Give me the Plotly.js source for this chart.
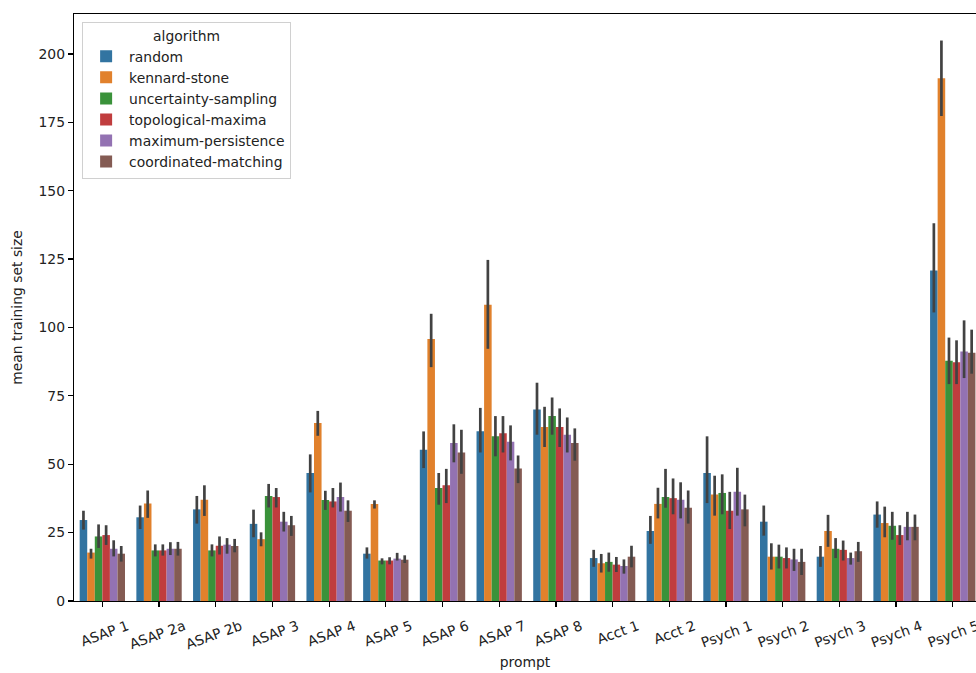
<!DOCTYPE html>
<html>
<head>
<meta charset="utf-8">
<script src="https://cdn.plot.ly/plotly-3.0.1.min.js"></script>
<style>html,body{margin:0;padding:0;background:#fff;}#chart{width:976px;height:673px;}</style>
</head>
<body>
<div id="chart"></div>
<script>
const prompts = ["ASAP 1","ASAP 2a","ASAP 2b","ASAP 3","ASAP 4","ASAP 5","ASAP 6","ASAP 7","ASAP 8","Acct 1","Acct 2","Psych 1","Psych 2","Psych 3","Psych 4","Psych 5"];
const algorithms = ["random","kennard-stone","uncertainty-sampling","topological-maxima","maximum-persistence","coordinated-matching"];
const colors = ["#3274a1","#e1812c","#3a923a","#c03d3e","#9372b2","#845b53"];

const randomMean = [29.6,30.6,33.5,28.2,46.8,17.3,55.3,62.1,70.0,15.7,25.6,46.8,29.0,16.2,31.6,120.8];
const randomHi   = [33.0,34.9,38.4,33.4,53.6,19.6,62.0,70.6,79.8,18.7,31.1,60.2,34.9,20.1,36.4,138.1];
const randomLo   = [26.1,26.3,28.3,23.3,39.7,15.5,48.6,54.3,60.8,12.5,20.9,35.8,23.9,12.5,26.8,105.5];

const kennardMean = [17.7,35.6,37.0,22.6,65.1,35.5,95.8,108.3,63.6,13.8,35.5,38.9,16.2,25.6,28.5,191.1];
const kennardHi   = [19.1,40.4,42.3,25.1,69.5,36.8,105.0,124.7,71.0,17.2,41.4,45.8,21.1,31.5,34.5,204.9];
const kennardLo   = [15.5,30.4,31.1,20.0,60.4,33.8,85.5,92.2,56.3,10.4,30.2,31.2,11.5,19.8,23.3,177.3];

const uncertaintyMean = [23.6,18.5,18.5,38.4,36.9,14.8,41.3,60.2,67.6,14.3,38.0,39.5,16.2,19.1,27.5,87.8];
const uncertaintyHi   = [28.0,20.7,20.7,42.8,40.3,15.6,46.8,67.6,74.4,17.7,48.3,46.3,20.6,23.0,32.6,96.3];
const uncertaintyLo   = [19.4,16.3,16.3,34.2,33.3,13.4,35.2,52.9,60.8,10.7,34.1,31.7,11.9,15.7,22.4,79.3];

const topologicalMean = [24.1,18.5,20.2,38.0,36.4,14.8,42.3,61.3,63.6,13.3,37.6,33.0,15.7,18.7,24.1,87.3];
const topologicalHi   = [27.7,20.7,23.6,41.3,41.3,16.0,48.3,67.6,70.4,16.1,44.8,39.9,19.6,22.1,27.7,95.3];
const topologicalLo   = [20.5,16.6,17.0,34.2,34.2,13.4,35.8,54.3,56.3,10.6,31.7,26.3,11.9,14.8,20.5,79.3];

const persistenceMean = [19.1,19.1,20.6,29.0,38.0,15.5,57.8,58.2,60.8,12.8,37.0,39.9,15.2,15.7,27.1,91.2];
const persistenceHi   = [22.2,21.5,23.0,32.6,43.3,17.6,64.6,64.2,67.1,15.2,43.4,48.7,19.1,17.7,32.6,102.6];
const persistenceLo   = [16.3,16.8,17.3,25.4,32.7,14.8,50.7,51.4,54.3,10.0,30.2,31.2,11.0,13.3,22.2,81.5];

const coordinatedMean = [17.3,19.1,20.1,27.7,33.0,15.1,54.3,48.4,57.8,16.2,34.1,33.5,14.3,18.2,27.1,90.8];
const coordinatedHi   = [20.1,21.6,22.7,31.1,36.8,16.7,62.6,53.2,63.1,20.2,40.4,38.9,19.1,21.6,31.6,99.2];
const coordinatedLo   = [14.4,16.6,17.8,23.8,28.9,13.9,46.5,43.1,51.3,12.3,28.3,27.3,9.5,14.3,22.2,83.1];

const series = [
  [randomMean, randomHi, randomLo],
  [kennardMean, kennardHi, kennardLo],
  [uncertaintyMean, uncertaintyHi, uncertaintyLo],
  [topologicalMean, topologicalHi, topologicalLo],
  [persistenceMean, persistenceHi, persistenceLo],
  [coordinatedMean, coordinatedHi, coordinatedLo]
];

const traces = series.map((s, i) => ({
  type: "bar",
  name: algorithms[i],
  x: prompts,
  y: s[0],
  marker: {color: colors[i], line: {width: 0}},
  error_y: {
    type: "data",
    symmetric: false,
    array: s[1].map((h, k) => h - s[0][k]),
    arrayminus: s[0].map((m, k) => m - s[2][k]),
    color: "#424242",
    thickness: 2.7,
    width: 0
  }
}));

const font = "DejaVu Sans, sans-serif";
const fs = 13.9;
const layout = {
  width: 976, height: 673,
  margin: {l: 74, r: 0, t: 14, b: 72},
  paper_bgcolor: "#fff", plot_bgcolor: "#fff",
  barmode: "group", bargap: 0.2, bargroupgap: 0,
  font: {family: font, size: fs, color: "#222"},
  showlegend: true,
  legend: {
    x: 0.009, y: 0.987, xanchor: "left", yanchor: "top",
    bordercolor: "#d0d0d0", borderwidth: 1, bgcolor: "rgba(255,255,255,0.8)",
    font: {family: font, size: fs, color: "#222"},
    title: {text: "algorithm", side: "top center", font: {family: font, size: fs, color: "#222"}},
    tracegroupgap: 0, itemwidth: 36
  },
  xaxis: {
    type: "category",
    range: [-0.5, 15.41],
    showline: true, linecolor: "#000", linewidth: 1.2, mirror: true,
    ticks: "outside", ticklen: 5, tickwidth: 1.2, tickcolor: "#000",
    tickangle: -20,
    ticklabelshift: 25,
    ticklabelstandoff: 6,
    tickfont: {family: font, size: fs, color: "#222"},
    showgrid: false, zeroline: false,
    title: {text: "prompt", font: {family: font, size: fs, color: "#222"}, standoff: 6}
  },
  yaxis: {
    range: [0, 214.6],
    tickvals: [0,25,50,75,100,125,150,175,200],
    showline: true, linecolor: "#000", linewidth: 1.2,
    ticks: "outside", ticklen: 5, tickwidth: 1.2, tickcolor: "#000",
    tickfont: {family: font, size: fs, color: "#222"},
    showgrid: false, zeroline: false,
    title: {text: "mean training set size", font: {family: font, size: fs, color: "#222"}, standoff: 12}
  }
};

Plotly.newPlot("chart", traces, layout, {displayModeBar: false, staticPlot: true});
</script>
</body>
</html>
